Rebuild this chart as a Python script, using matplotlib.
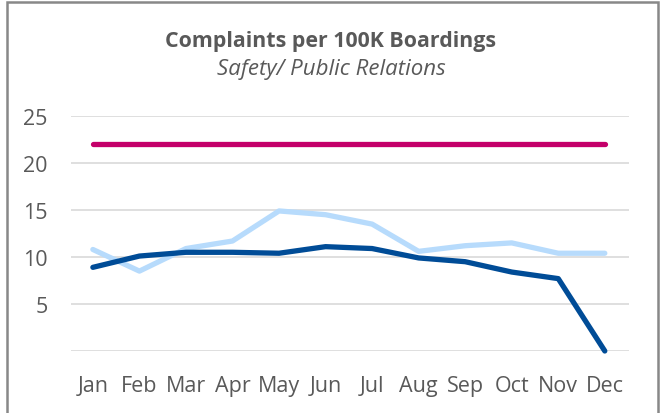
import matplotlib
matplotlib.use("Agg")
import matplotlib.pyplot as plt
from matplotlib.patches import Rectangle

months = ["Jan", "Feb", "Mar", "Apr", "May", "Jun", "Jul", "Aug", "Sep", "Oct", "Nov", "Dec"]
target = [22, 22, 22, 22, 22, 22, 22, 22, 22, 22, 22, 22]
prior_year = [10.8, 8.5, 10.9, 11.7, 14.9, 14.5, 13.5, 10.6, 11.2, 11.5, 10.4, 10.4]
current_year = [8.9, 10.1, 10.5, 10.5, 10.4, 11.1, 10.9, 9.9, 9.5, 8.4, 7.7, 0.0]
yticks = [5, 10, 15, 20, 25]

plt.rcParams['font.family'] = ['Open Sans', 'DejaVu Sans']

W, H = 671, 414
fig = plt.figure(figsize=(W / 100, H / 100), dpi=100)

# outer frame
fig.patches.append(Rectangle((7 / W, -0.05), (658 - 7) / W, 1.05 - 3 / H,
                             transform=fig.transFigure, fill=False,
                             edgecolor="#888888", linewidth=1.8))

ax = fig.add_axes([71 / W, 1 - 352 / H, (629 - 71) / W, (352 - 117) / H])
x = list(range(len(months)))
ax.set_xlim(-0.47, len(months) - 1 + 0.52)
ax.set_ylim(0, 25)

for v in [0] + yticks:
    ax.axhline(v, color="#D9D9D9", linewidth=1.2, zorder=0)

ax.plot(x, target, color="#C4006A", linewidth=3.8, solid_capstyle="round", zorder=3, clip_on=False)
ax.plot(x, prior_year, color="#B7DBFC", linewidth=3.8, solid_capstyle="round", zorder=2, clip_on=False)
ax.plot(x, current_year, color="#004C97", linewidth=3.8, solid_capstyle="round",
        solid_joinstyle="round", zorder=4, clip_on=False)

ax.set_xticks(x)
ax.set_xticklabels(months)
ax.set_yticks(yticks)
ax.tick_params(axis="both", length=0, labelsize=15.5, colors="#595959")
ax.tick_params(axis="x", pad=17)
ax.tick_params(axis="y", pad=17)
for s in ax.spines.values():
    s.set_visible(False)

fig.text(331 / W, 1 - 41 / H, "Complaints per 100K Boardings", ha="center", va="center",
         fontsize=15.4, fontweight="bold", color="#595959")
fig.text(331 / W, 1 - 70 / H, "Safety/ Public Relations", ha="center", va="center",
         fontsize=16, style="italic", color="#595959")

fig.savefig("out.png", dpi=100)
